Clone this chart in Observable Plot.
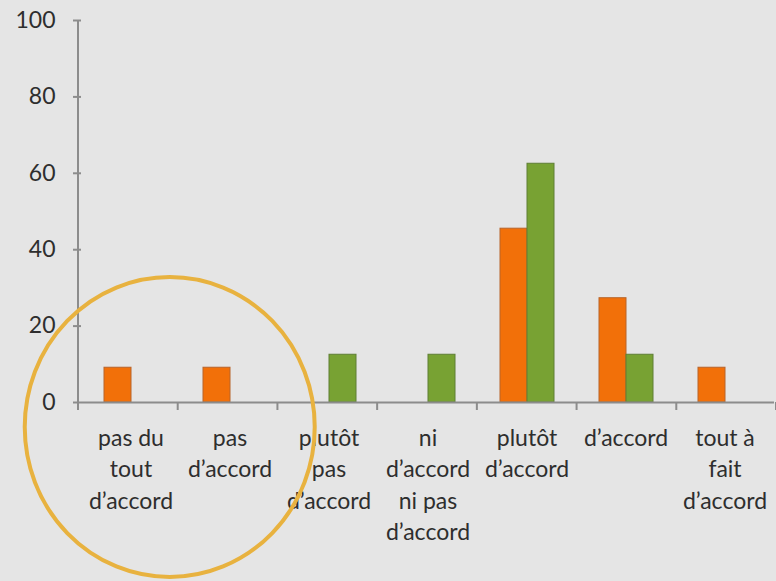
<!DOCTYPE html>
<html>
<head>
<meta charset="utf-8">
<script src="https://cdn.jsdelivr.net/npm/d3@7"></script>
<script src="https://cdn.jsdelivr.net/npm/@observablehq/plot@0.6"></script>
<style>
  html, body { margin: 0; padding: 0; background: #e5e5e5; }
  #chart { width: 776px; height: 581px; }
</style>
</head>
<body>
<div id="chart"></div>
<script>
const categories = ["c1", "c2", "c3", "c4", "c5", "c6", "c7"];
const tickLabels = [
  "pas du\ntout\nd’accord",
  "pas\nd’accord",
  "plutôt\npas\nd’accord",
  "ni\nd’accord\nni pas\nd’accord",
  "plutôt\nd’accord",
  "d’accord",
  "tout à\nfait\nd’accord"
];
const seriesA = [9.1, 9.1, 0, 0, 45.5, 27.3, 9.1];
const seriesB = [0, 0, 12.5, 12.5, 62.5, 12.5, 0];
const yTicks = [0, 20, 40, 60, 80, 100];
const seriesNames = ["A", "B"];
const fills = ["#f27009", "#78a233"];
const strokes = ["#b8642a", "#5f7f35"];

const data = categories.flatMap((c, i) => [
  {cat: c, s: "A", v: seriesA[i]},
  {cat: c, s: "B", v: seriesB[i]}
]).filter(d => d.v > 0);

const labelOf = Object.fromEntries(categories.map((c, i) => [c, tickLabels[i]]));

const plot = Plot.plot({
  width: 776,
  height: 581,
  marginLeft: 78,
  marginRight: 0,
  marginTop: 20,
  marginBottom: 179,
  style: {background: "transparent", fontFamily: "Lato, 'Open Sans', sans-serif", fontSize: "23px", color: "#2e2e2e"},
  fx: {domain: categories, padding: 0, label: null},
  x: {domain: seriesNames, paddingInner: 0, paddingOuter: 0.82, axis: null},
  y: {domain: [0, 100], label: null},
  color: {domain: seriesNames, range: fills},
  marks: [
    Plot.barY(data, {fx: "cat", x: "s", y: "v", fill: "s",
      stroke: d => strokes[seriesNames.indexOf(d.s)], strokeWidth: 1}),
    Plot.ruleY([0], {stroke: "#8c8c8c", strokeWidth: 2}),
    Plot.axisY({ticks: yTicks, tickSize: 8, tickPadding: 18, stroke: "#8c8c8c", strokeWidth: 2, fontSize: 23, label: null}),
    Plot.axisFx({anchor: "bottom", tickSize: 0, tickPadding: 21, tickFormat: d => labelOf[d], lineHeight: 1.37, fontSize: 23, label: null})
  ]
});

document.getElementById("chart").appendChild(plot);

// axis line, category boundary ticks and circled annotation, positioned with the plot's scales
const fx = plot.scale("fx");
const y = plot.scale("y");
const svg = d3.select(plot);
const step = (fx.range[1] - fx.range[0]) / categories.length;
const x0 = fx.range[0];
const y0 = y.apply(0);
const g = svg.append("g").attr("stroke", "#8c8c8c").attr("stroke-width", 2);
g.append("line").attr("x1", x0).attr("x2", x0).attr("y1", y.apply(100)).attr("y2", y0 + 8);
for (let i = 0; i <= categories.length; i++) {
  const xb = x0 + i * step;
  g.append("line").attr("x1", xb).attr("x2", xb).attr("y1", y0).attr("y2", y0 + 8);
}
svg.append("ellipse")
  .attr("cx", x0 + step * 0.92)
  .attr("cy", y0 + 25)
  .attr("rx", 145)
  .attr("ry", 150)
  .attr("fill", "none")
  .attr("stroke", "#e8b23f")
  .attr("stroke-width", 4);
</script>
</body>
</html>
